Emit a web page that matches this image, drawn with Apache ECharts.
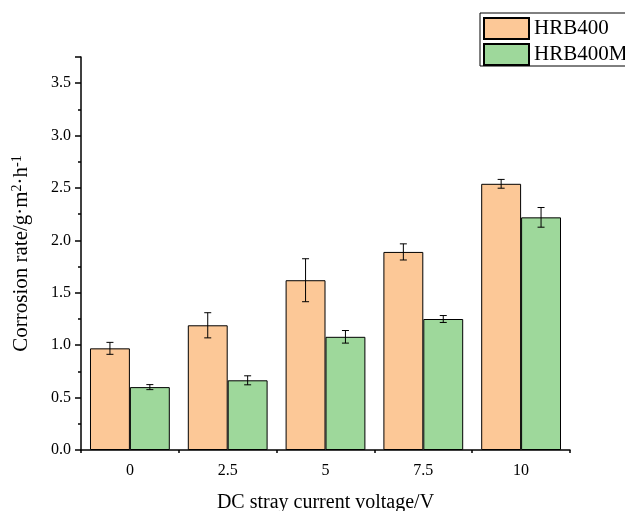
<!DOCTYPE html>
<html>
<head>
<meta charset="utf-8">
<script src="https://cdn.jsdelivr.net/npm/echarts@6/dist/echarts.min.js"></script>
<style>html,body{margin:0;padding:0;background:#fff}#c{width:625px;height:511px}</style>
</head>
<body>
<div id="c"></div>
<script>
var categories = ['0', '2.5', '5', '7.5', '10'];
var hrb400 = [0.97, 1.19, 1.62, 1.89, 2.54];
var hrb400Err = [0.057, 0.12, 0.205, 0.077, 0.042];
var hrb400m = [0.60, 0.665, 1.08, 1.25, 2.22];
var hrb400mErr = [0.024, 0.043, 0.06, 0.033, 0.094];
var yTicks = [0, 0.5, 1.0, 1.5, 2.0, 2.5, 3.0, 3.5];

var FONT = 'Liberation Serif';
var GAP = 0.184;

function errSeries(vals, errs, side) {
  return {
    type: 'custom',
    xAxisIndex: 0,
    z: 10,
    silent: true,
    data: vals.map(function (v, i) { return [i, v - errs[i], v + errs[i]]; }),
    renderItem: function (params, api) {
      var band = api.size([1, 0])[0];
      var off = side * band * (1 - GAP) / 4;
      var lo = api.coord([api.value(0), api.value(1)]);
      var hi = api.coord([api.value(0), api.value(2)]);
      var x = lo[0] + off;
      var cap = 3.5;
      var st = { stroke: '#000', lineWidth: 1 };
      return {
        type: 'group',
        children: [
          { type: 'line', shape: { x1: x, y1: lo[1], x2: x, y2: hi[1] }, style: st },
          { type: 'line', shape: { x1: x - cap, y1: lo[1], x2: x + cap, y2: lo[1] }, style: st },
          { type: 'line', shape: { x1: x - cap, y1: hi[1], x2: x + cap, y2: hi[1] }, style: st }
        ]
      };
    }
  };
}

var chart = echarts.init(document.getElementById('c'));
chart.setOption({
  animation: false,
  backgroundColor: '#fff',
  textStyle: { fontFamily: FONT, color: '#000' },
  grid: { left: 81, right: 55, top: 57, bottom: 61, containLabel: false, outerBoundsMode: 'none' },
  legend: {
    orient: 'vertical',
    left: 483,
    top: 17,
    padding: 0,
    itemWidth: 45,
    itemHeight: 21,
    itemGap: 3,
    icon: 'rect',
    textStyle: { fontFamily: FONT, fontSize: 21, color: '#000' },
    data: ['HRB400', 'HRB400M']
  },
  graphic: [{
    type: 'rect',
    shape: { x: 480, y: 13, width: 160, height: 53 },
    style: { fill: 'none', stroke: '#000', lineWidth: 1 },
    z: -1
  }],
  xAxis: [{
    type: 'category',
    data: categories,
    name: 'DC stray current voltage/V',
    nameLocation: 'middle',
    nameGap: 43,
    nameTextStyle: { fontFamily: FONT, fontSize: 20, color: '#000' },
    axisLine: { lineStyle: { color: '#000', width: 1.5 } },
    axisTick: { alignWithLabel: true, length: 6, lineStyle: { color: '#000', width: 1.5 } },
    axisLabel: { fontFamily: FONT, fontSize: 16, color: '#000', margin: 13 }
  }, {
    type: 'category',
    data: categories,
    position: 'bottom',
    axisLine: { show: false },
    axisTick: { show: true, alignWithLabel: false, length: 3, lineStyle: { color: '#000', width: 1.5 } },
    axisLabel: { show: false }
  }],
  yAxis: {
    type: 'value',
    min: 0,
    max: 3.75,
    interval: 0.5,
    name: '{a|Corrosion rate/g·m}{s|2}{a|·h}{s|-1}',
    nameLocation: 'middle',
    nameRotate: 90,
    nameGap: 49,
    nameTextStyle: {
      fontFamily: FONT, fontSize: 21, color: '#000',
      rich: {
        a: { fontFamily: FONT, fontSize: 21, color: '#000' },
        s: { fontFamily: FONT, fontSize: 14, color: '#000', verticalAlign: 'top', padding: [0, 0, 8, 0] }
      }
    },
    splitLine: { show: false },
    axisLine: { show: true, lineStyle: { color: '#000', width: 1.5 } },
    axisTick: { show: true, length: 6, lineStyle: { color: '#000', width: 1.5 } },
    minorTick: { show: true, splitNumber: 2, length: 3, lineStyle: { color: '#000', width: 1.5 } },
    axisLabel: {
      fontFamily: FONT, fontSize: 16, color: '#000', margin: 10,
      formatter: function (v) { return yTicks.indexOf(v) >= 0 ? v.toFixed(1) : ''; }
    }
  },
  series: [{
    name: 'HRB400',
    type: 'bar',
    data: hrb400,
    barGap: '0%',
    barCategoryGap: '18.4%',
    itemStyle: { color: '#FCC897', borderColor: '#000', borderWidth: 1 }
  }, {
    name: 'HRB400M',
    type: 'bar',
    data: hrb400m,
    barGap: '0%',
    barCategoryGap: '18.4%',
    itemStyle: { color: '#9ED89B', borderColor: '#000', borderWidth: 1 }
  },
  errSeries(hrb400, hrb400Err, -1),
  errSeries(hrb400m, hrb400mErr, 1)]
});
</script>
</body>
</html>
